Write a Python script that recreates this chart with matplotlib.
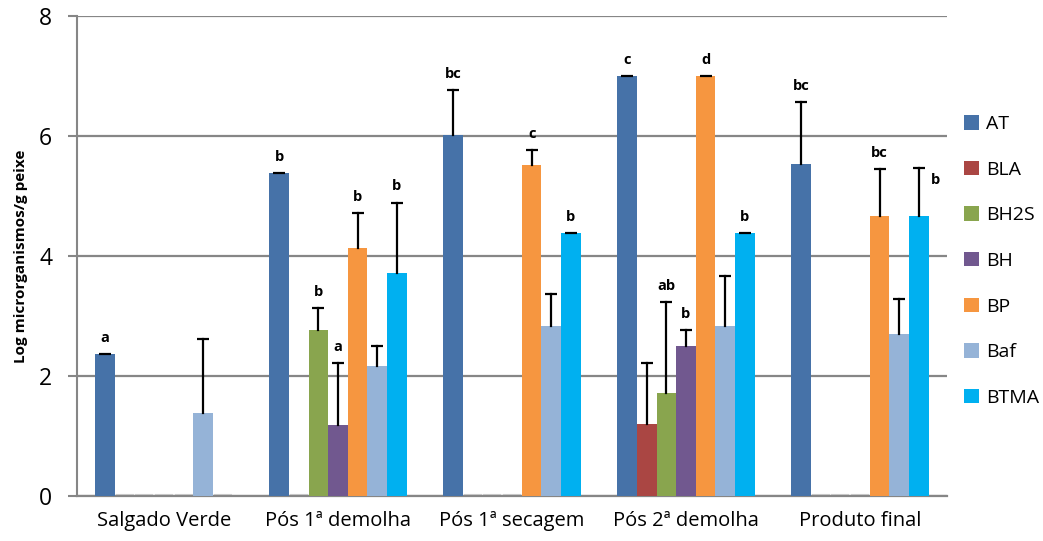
import matplotlib
matplotlib.use("Agg")
import matplotlib.pyplot as plt
import numpy as np

categories = ["Salgado Verde", "Pós 1ª demolha", "Pós 1ª secagem", "Pós 2ª demolha", "Produto final"]
series = ["AT", "BLA", "BH2S", "BH", "BP", "Baf", "BTMA"]

AT   = [2.36, 5.38, 6.01, 7.00, 5.54]
BLA  = [0.0, 0.0, 0.0, 1.20, 0.0]
BH2S = [0.0, 2.76, 0.0, 1.72, 0.0]
BH   = [0.0, 1.19, 0.0, 2.50, 0.0]
BP   = [0.0, 4.13, 5.52, 7.00, 4.66]
Baf  = [1.38, 2.17, 2.84, 2.84, 2.70]
BTMA = [0.0, 3.71, 4.38, 4.38, 4.66]

AT_err   = [0.0, 0.0, 0.76, 0.0, 1.03]
BLA_err  = [None, None, None, 1.01, None]
BH2S_err = [None, 0.37, None, 1.51, None]
BH_err   = [None, 1.02, None, 0.26, None]
BP_err   = [None, 0.58, 0.24, 0.0, 0.79]
Baf_err  = [1.24, 0.33, 0.52, 0.83, 0.59]
BTMA_err = [None, 1.18, 0.0, 0.0, 0.80]

AT_lbl   = ["a", "b", "bc", "c", "bc"]
BLA_lbl  = ["", "", "", "", ""]
BH2S_lbl = ["", "b", "", "ab", ""]
BH_lbl   = ["", "a", "", "b", ""]
BP_lbl   = ["", "b", "c", "d", "bc"]
Baf_lbl  = ["", "", "", "", ""]
BTMA_lbl = ["", "b", "b", "b", "b"]

values = [AT, BLA, BH2S, BH, BP, Baf, BTMA]
errors = [AT_err, BLA_err, BH2S_err, BH_err, BP_err, Baf_err, BTMA_err]
labels = [AT_lbl, BLA_lbl, BH2S_lbl, BH_lbl, BP_lbl, Baf_lbl, BTMA_lbl]
colors = ["#4672A8", "#AA4643", "#89A54E", "#71588F", "#F69640", "#95B3D7", "#00B0F0"]

plt.rcParams["font.family"] = ["Open Sans", "DejaVu Sans"]

W, H = 1043, 541
fig = plt.figure(figsize=(W / 100, H / 100), dpi=100)
ax = fig.add_axes([77 / W, (H - 496) / H, 870 / W, 480 / H])

x = np.arange(len(categories))
bw = 0.113
nser = len(series)
cap = bw * 0.3

for i, (name, vals, errs, lbls, col) in enumerate(zip(series, values, errors, labels, colors)):
    xs = x + (i - (nser - 1) / 2) * bw
    for xi, v in zip(xs, vals):
        if v == 0:
            ax.plot([xi - bw * 0.45, xi + bw * 0.45], [0.01, 0.01], color="#D0D0D0",
                    lw=1.5, zorder=2, solid_capstyle="butt")
    ax.bar(xs, vals, width=bw, color=col, label=name, zorder=3, linewidth=0)
    for j, (xi, v, e, lab) in enumerate(zip(xs, vals, errs, lbls)):
        top = v
        if e is not None:
            top = v + e
            # plus-direction error bar: stem from the bar top, cap at the end
            if e > 0:
                ax.plot([xi, xi], [v, top], color="black", lw=1.6, zorder=4)
            ax.plot([xi - cap, xi + cap], [top, top], color="black", lw=1.6,
                    zorder=4, solid_capstyle="butt")
        if lab:
            dx = 0.0
            dy = 0.27
            if name == "BTMA" and j == 4:
                dx = 0.095
                dy = -0.2
            ax.text(xi + dx, top + dy, lab, ha="center", va="center",
                    fontsize=10.5, fontweight="bold", color="black", zorder=5)

ax.set_xlim(-0.5, len(categories) - 0.5)
ax.set_ylim(0, 8)
ax.set_yticks([0, 2, 4, 6, 8])
ax.set_xticks(x)
ax.set_xticklabels(categories, fontsize=14.5)
ax.tick_params(axis="x", length=0, pad=11)
ax.tick_params(axis="y", labelsize=16.5, length=6.5, color="#868686", width=1.5, pad=11.5)
ax.yaxis.grid(True, color="#868686", linewidth=1.6, zorder=0)
ax.set_axisbelow(True)
for side in ["top", "right"]:
    ax.spines[side].set_visible(False)
ax.spines["left"].set_color("#868686")
ax.spines["left"].set_linewidth(1.5)
ax.spines["bottom"].set_color("#868686")
ax.spines["bottom"].set_linewidth(1.6)

ax.set_ylabel("Log microrganismos/g peixe", fontsize=11, fontweight="bold")
ax.yaxis.set_label_coords(-0.056, 0.5)

leg = fig.legend(loc="center left", bbox_to_anchor=(964 / W, 1 - 261 / H), frameon=False,
                 fontsize=14, handlelength=0.75, handleheight=0.75, labelspacing=1.42,
                 handletextpad=0.4, borderaxespad=0, borderpad=0)

fig.savefig("out.png", dpi=100)
